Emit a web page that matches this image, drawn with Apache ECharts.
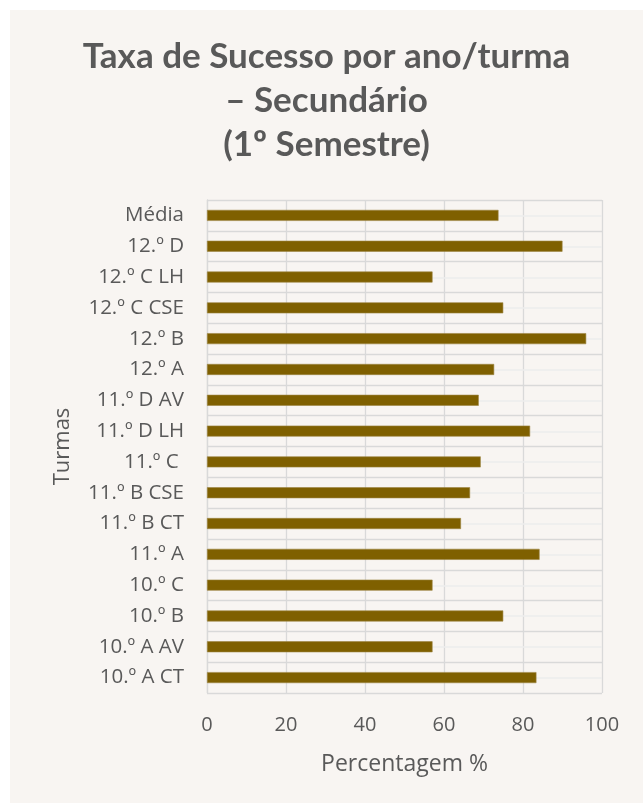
<!DOCTYPE html>
<html>
<head>
<meta charset="utf-8">
<script src="https://cdn.jsdelivr.net/npm/echarts@6/dist/echarts.min.js"></script>
<style>
  html, body { margin: 0; padding: 0; background: #ffffff; }
  #chart { position: absolute; left: 10px; top: 10px; width: 633px; height: 793px; background: #f8f5f2; }
</style>
</head>
<body>
<div id="chart"></div>
<script>
// Turmas, listed from top to bottom
const turmas = [
  'Média', '12.º D', '12.º C LH', '12.º C CSE', '12.º B', '12.º A',
  '11.º D AV', '11.º D LH', '11.º C ', '11.º B CSE', '11.º B CT', '11.º A',
  '10.º C', '10.º B', '10.º A AV', '10.º A CT'
];
// Taxa de sucesso (%) for each turma
const taxaSucesso = [
  73.8, 90.0, 57.1, 75.0, 96.0, 72.7,
  68.8, 81.8, 69.3, 66.6, 64.3, 84.2,
  57.1, 75.0, 57.1, 83.4
];
const percentTicks = [0, 20, 40, 60, 80, 100];

const textColor = '#595959';
const gridColor = '#d9d9d9';
const labelFont = '"Open Sans", Lato, sans-serif';
const titleFont = 'Lato, "Open Sans", sans-serif';

const chart = echarts.init(document.getElementById('chart'));
chart.setOption({
  animation: false,
  textStyle: { fontFamily: labelFont },
  title: {
    text: 'Taxa de Sucesso por ano/turma\n– Secundário\n(1º Semestre)',
    left: 'center',
    top: 20,
    textStyle: {
      color: textColor,
      fontSize: 35,
      fontWeight: 'bold',
      lineHeight: 44,
      fontFamily: titleFont
    }
  },
  grid: { left: 197, right: 41, top: 190, bottom: 110, containLabel: false },
  xAxis: {
    type: 'value',
    min: percentTicks[0],
    max: percentTicks[percentTicks.length - 1],
    interval: 20,
    name: 'Percentagem %',
    nameLocation: 'middle',
    nameGap: 60,
    nameTextStyle: { color: textColor, fontSize: 23, fontFamily: labelFont },
    axisLine: { show: false },
    axisTick: { show: false },
    axisLabel: { color: textColor, fontSize: 20, margin: 22 },
    splitLine: { show: true, lineStyle: { color: gridColor, width: 1.3 } }
  },
  yAxis: {
    type: 'category',
    data: turmas,
    inverse: true,
    name: 'Turmas',
    nameLocation: 'middle',
    nameGap: 133,
    nameRotate: 90,
    nameTextStyle: { color: textColor, fontSize: 22, fontFamily: labelFont },
    axisLine: { show: true, lineStyle: { color: gridColor, width: 1.3 } },
    axisTick: { show: false },
    axisLabel: { color: textColor, fontSize: 20.5, margin: 23 },
    splitLine: { show: true, lineStyle: { color: gridColor, width: 1.3 } }
  },
  series: [
    {
      // faint guide line through the middle of each category row
      type: 'bar',
      data: [],
      silent: true,
      markLine: {
        silent: true,
        symbol: ['none', 'none'],
        label: { show: false },
        lineStyle: { color: '#ececec', width: 1.5, type: 'solid' },
        data: turmas.map(t => ({ yAxis: t }))
      }
    },
    {
      type: 'bar',
      z: 10,
      data: taxaSucesso,
      barWidth: 11,
      barGap: '-100%',
      itemStyle: { color: '#7f6000', borderColor: '#9c8441', borderWidth: 0.6 }
    }
  ]
});
</script>
</body>
</html>
